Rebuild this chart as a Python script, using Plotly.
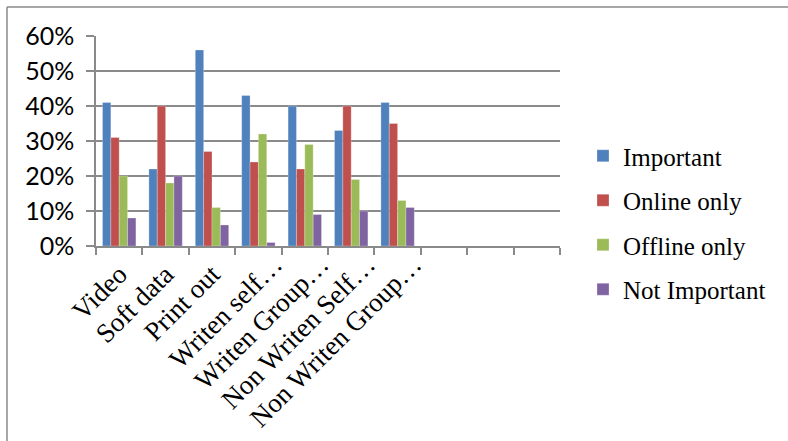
import plotly.graph_objects as go

categories = ["Video", "Soft data", "Print out", "Writen self…", "Writen Group…",
              "Non Writen Self…", "Non Writen Group…"]
empty_slots = [" ", "  ", "   "]
series_names = ["Important", "Online only", "Offline only", "Not Important"]
important = [0.41, 0.22, 0.56, 0.43, 0.40, 0.33, 0.41]
online_only = [0.31, 0.40, 0.27, 0.24, 0.22, 0.40, 0.35]
offline_only = [0.20, 0.18, 0.11, 0.32, 0.29, 0.19, 0.13]
not_important = [0.08, 0.20, 0.06, 0.01, 0.09, 0.10, 0.11]
y_ticks = [0, 0.1, 0.2, 0.3, 0.4, 0.5, 0.6]

colors = ["#4F81BD", "#C0504D", "#9BBB59", "#8064A2"]
values = [important, online_only, offline_only, not_important]

# layout geometry (pixels)
W, H = 788, 441
L, R, T, B = 96, 228, 36, 195
pw, ph = W - L - R, H - T - B

all_cats = categories + empty_slots
full_labels = [c for c in categories if not c.endswith("…")]
trunc_labels = [c for c in categories if c.endswith("…")]

fig = go.Figure()
for name, vals, col in zip(series_names, values, colors):
    fig.add_trace(go.Bar(
        x=categories, y=vals, name=name, legendgroup=name,
        marker=dict(color=col, line=dict(color="rgba(255,255,255,0.5)", width=0.5)),
    ))
# empty helper trace so the overlaying label axis is drawn (no visible marks)
fig.add_trace(go.Scatter(x=trunc_labels, y=[None] * len(trunc_labels), xaxis="x2",
                         mode="markers", showlegend=False, hoverinfo="skip"))

grid_col = "#8a8a8a"
lab_font = dict(family="Liberation Serif", size=27, color="black")
fig.update_layout(
    width=W, height=H,
    margin=dict(l=L, r=R, t=T, b=B, autoexpand=False),
    paper_bgcolor="white", plot_bgcolor="white",
    barmode="group", bargap=0.28, bargroupgap=0,
    legend=dict(
        x=(583 - L) / pw, xanchor="left",
        y=(H - B - 133) / ph, yanchor="top",
        font=dict(family="Liberation Serif", size=25, color="black"),
        tracegroupgap=9, traceorder="grouped",
        bgcolor="rgba(0,0,0,0)",
    ),
    xaxis=dict(
        type="category",
        categoryorder="array", categoryarray=all_cats,
        range=[-0.5, 9.5], automargin=False,
        tickmode="array", tickvals=all_cats,
        ticktext=[c if c in full_labels else "" for c in all_cats],
        tickson="boundaries", ticks="outside", ticklen=7, tickwidth=1.5, tickcolor=grid_col,
        showline=True, linecolor=grid_col, linewidth=1.5,
        showgrid=False, tickangle=-45,
        tickfont=lab_font,
        fixedrange=True,
    ),
    xaxis2=dict(
        type="category", overlaying="x", matches="x", anchor="y", side="bottom",
        categoryorder="array", categoryarray=all_cats,
        range=[-0.5, 9.5], automargin=False,
        tickmode="array", tickvals=trunc_labels, ticktext=trunc_labels,
        ticks="outside", ticklen=7, tickcolor="rgba(0,0,0,0)",
        ticklabelshift=16, ticklabelstandoff=-16,
        showline=False, showgrid=False, zeroline=False, tickangle=-45,
        tickfont=lab_font,
        fixedrange=True,
    ),
    yaxis=dict(
        range=[0, 0.6], tickvals=y_ticks, tickformat=".0%", automargin=False,
        ticks="outside", ticklen=8, tickwidth=1.5, tickcolor=grid_col,
        ticklabelstandoff=7,
        showline=True, linecolor=grid_col, linewidth=1.5,
        showgrid=True, gridcolor=grid_col, gridwidth=1.5,
        zeroline=False,
        tickfont=dict(family="Lato", size=25, color="black"),
        fixedrange=True,
    ),
    showlegend=True,
)

# chart frame (top and left border)
bx = (7 - L) / pw
by = (H - B - 7) / ph
fig.add_shape(type="line", xref="paper", yref="paper", x0=bx, x1=(W - L) / pw + 0.01,
              y0=by, y1=by, line=dict(color=grid_col, width=1.5))
fig.add_shape(type="line", xref="paper", yref="paper", x0=bx, x1=bx,
              y0=by, y1=-(B + 5) / ph, line=dict(color=grid_col, width=1.5))

fig.write_html("out.html")
